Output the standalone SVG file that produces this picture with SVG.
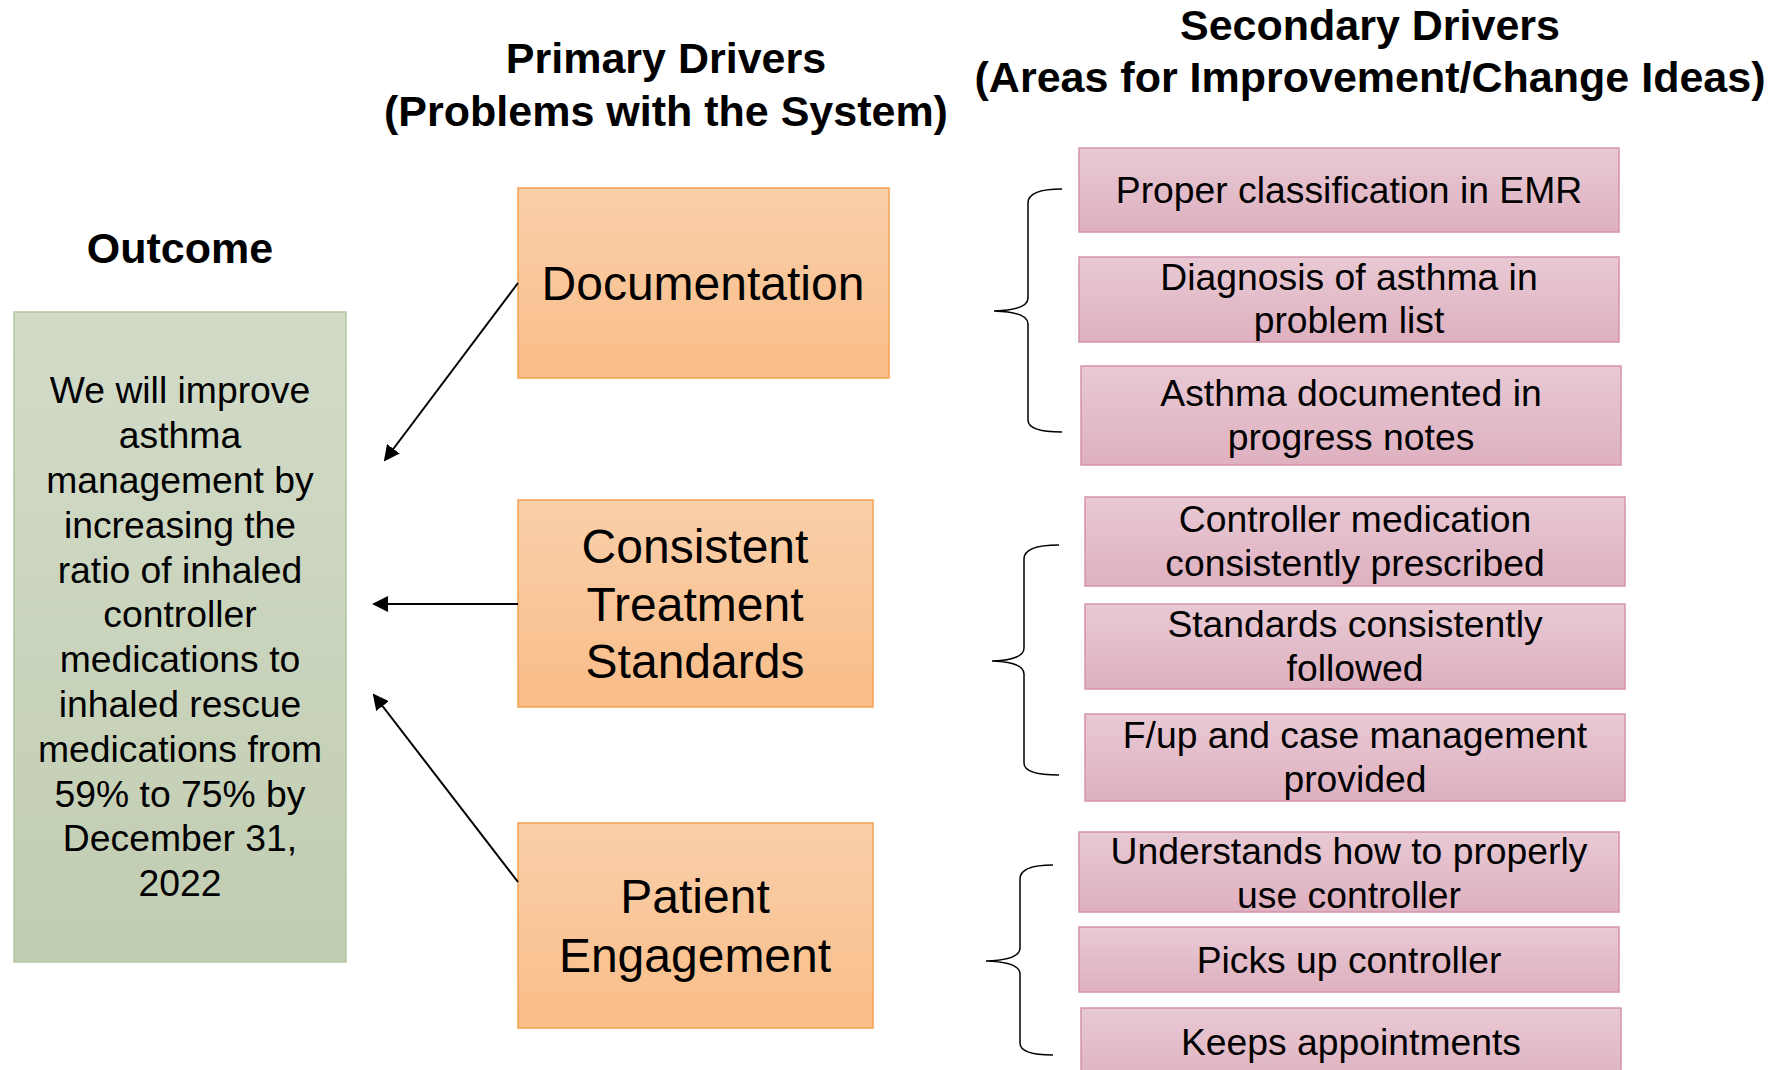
<svg xmlns="http://www.w3.org/2000/svg" width="1771" height="1070" viewBox="0 0 1771 1070">
<defs>
<linearGradient id="gOut" x1="0" y1="0" x2="0" y2="1"><stop offset="0" stop-color="#d2dbc8"/><stop offset="1" stop-color="#c1cdb1"/></linearGradient>
<linearGradient id="gPri" x1="0" y1="0" x2="0" y2="1"><stop offset="0" stop-color="#f9cfaa"/><stop offset="1" stop-color="#f9bd88"/></linearGradient>
<linearGradient id="gSec" x1="0" y1="0" x2="0" y2="1"><stop offset="0" stop-color="#e8c9d4"/><stop offset="1" stop-color="#deb0c0"/></linearGradient>
<marker id="ah" markerWidth="8" markerHeight="8" refX="7" refY="4" orient="auto" markerUnits="strokeWidth"><path d="M0,0 L8,4 L0,8 Z" fill="#000"/></marker>
</defs>
<style>
text{font-family:"Liberation Sans",Arial,sans-serif;fill:#000;text-anchor:middle}
.h{font-weight:bold;font-size:43px}
.ob{font-size:37.3px}
.pt{font-size:48px}
.st{font-size:37.3px}
.out{fill:url(#gOut);stroke:#b3c59f;stroke-width:1.5}
.pri{fill:url(#gPri);stroke:#f5a24f;stroke-width:1.5}
.sec{fill:url(#gSec);stroke:#d493ab;stroke-width:1.5}
.con{stroke:#000;stroke-width:2;fill:none}
.br{stroke:#000;stroke-width:1.5;fill:none}
</style>
<rect width="1771" height="1070" fill="#fff"/>
<g id="headers">
<text class="h" x="666" y="73">Primary Drivers</text>
<text class="h" x="666" y="126">(Problems with the System)</text>
<text class="h" x="1370" y="40">Secondary Drivers</text>
<text class="h" x="1370" y="92">(Areas for Improvement/Change Ideas)</text>
<text class="h" x="180" y="263">Outcome</text>
</g>
<g id="outcome">
<rect class="out" x="14" y="312" width="332" height="650"/>
<text class="ob" x="180" y="403">We will improve</text>
<text class="ob" x="180" y="448">asthma</text>
<text class="ob" x="180" y="493">management by</text>
<text class="ob" x="180" y="538">increasing the</text>
<text class="ob" x="180" y="583">ratio of inhaled</text>
<text class="ob" x="180" y="627">controller</text>
<text class="ob" x="180" y="672">medications to</text>
<text class="ob" x="180" y="717">inhaled rescue</text>
<text class="ob" x="180" y="762">medications from</text>
<text class="ob" x="180" y="807">59% to 75% by</text>
<text class="ob" x="180" y="851">December 31,</text>
<text class="ob" x="180" y="896">2022</text>
</g>
<g id="documentation">
<rect class="pri" x="518" y="188" width="371" height="190"/>
<text class="pt" x="703" y="300">Documentation</text>
</g>
<g id="consistent-treatment-standards">
<rect class="pri" x="518" y="500" width="355" height="207"/>
<text class="pt" x="695" y="563">Consistent</text>
<text class="pt" x="695" y="621">Treatment</text>
<text class="pt" x="695" y="678">Standards</text>
</g>
<g id="patient-engagement">
<rect class="pri" x="518" y="823" width="355" height="205"/>
<text class="pt" x="695" y="913">Patient</text>
<text class="pt" x="695" y="972">Engagement</text>
</g>
<g id="sec-proper-classification">
<rect class="sec" x="1079" y="148" width="540" height="84"/>
<text class="st" x="1349" y="203">Proper classification in EMR</text>
</g>
<g id="sec-diagnosis">
<rect class="sec" x="1079" y="257" width="540" height="85"/>
<text class="st" x="1349" y="290">Diagnosis of asthma in</text>
<text class="st" x="1349" y="333">problem list</text>
</g>
<g id="sec-asthma-documented">
<rect class="sec" x="1081" y="366" width="540" height="99"/>
<text class="st" x="1351" y="406">Asthma documented in</text>
<text class="st" x="1351" y="450">progress notes</text>
</g>
<g id="sec-controller-prescribed">
<rect class="sec" x="1085" y="497" width="540" height="89"/>
<text class="st" x="1355" y="532">Controller medication</text>
<text class="st" x="1355" y="576">consistently prescribed</text>
</g>
<g id="sec-standards-followed">
<rect class="sec" x="1085" y="604" width="540" height="85"/>
<text class="st" x="1355" y="637">Standards consistently</text>
<text class="st" x="1355" y="681">followed</text>
</g>
<g id="sec-fup-case-management">
<rect class="sec" x="1085" y="714" width="540" height="87"/>
<text class="st" x="1355" y="748">F/up and case management</text>
<text class="st" x="1355" y="792">provided</text>
</g>
<g id="sec-understands">
<rect class="sec" x="1079" y="832" width="540" height="80"/>
<text class="st" x="1349" y="864">Understands how to properly</text>
<text class="st" x="1349" y="908">use controller</text>
</g>
<g id="sec-picks-up">
<rect class="sec" x="1079" y="927" width="540" height="65"/>
<text class="st" x="1349" y="973">Picks up controller</text>
</g>
<g id="sec-keeps-appointments">
<rect class="sec" x="1081" y="1008" width="540" height="80"/>
<text class="st" x="1351" y="1055">Keeps appointments</text>
</g>
<g id="connectors">
<line class="con" x1="518" y1="283" x2="385" y2="460" marker-end="url(#ah)"/>
<line class="con" x1="518" y1="604" x2="374" y2="604" marker-end="url(#ah)"/>
<line class="con" x1="518" y1="882" x2="374" y2="695" marker-end="url(#ah)"/>
<path class="br" d="M1062,189 Q1028,189 1028,203 L1028,298 Q1028,310 994,311 Q1028,312 1028,324 L1028,420 Q1028,432 1062,432"/>
<path class="br" d="M1059,545 Q1024,545 1024,559 L1024,648 Q1024,660 992,661 Q1024,662 1024,674 L1024,763 Q1024,775 1059,775"/>
<path class="br" d="M1053,865 Q1020,865 1020,879 L1020,948 Q1020,960 986,961 Q1020,962 1020,974 L1020,1043 Q1020,1055 1053,1055"/>
</g>
</svg>
